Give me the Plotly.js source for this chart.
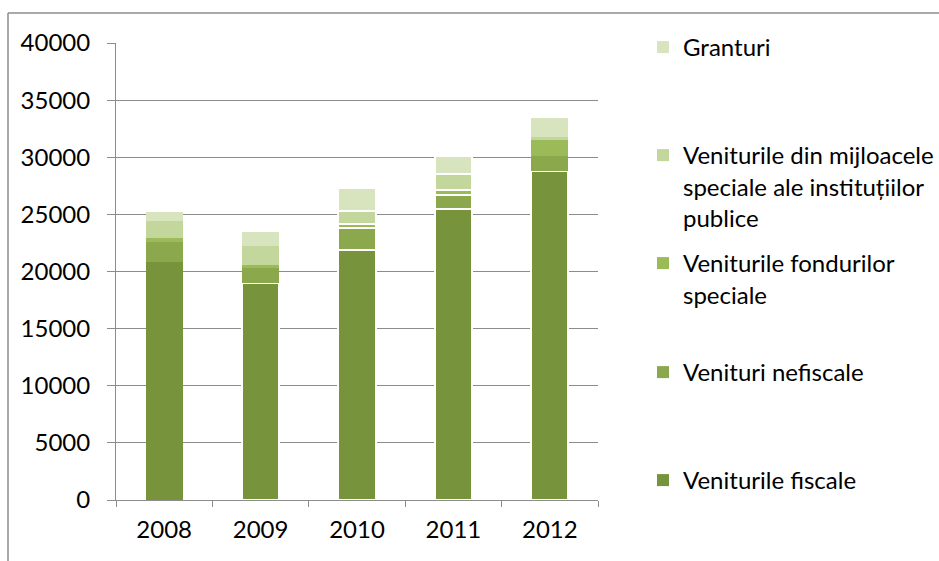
<!DOCTYPE html>
<html>
<head>
<meta charset="utf-8">
<script src="https://cdn.plot.ly/plotly-3.0.1.min.js"></script>
<style>
  html, body { margin: 0; padding: 0; background: #fff; }
  #chart { width: 939px; height: 561px; }
</style>
</head>
<body>
<div id="chart"></div>
<script>
// ---- data ----
const years = ['2008', '2009', '2010', '2011', '2012'];
const venituriFiscale = [20850, 19000, 21900, 25500, 28800];
const venituriNefiscale = [1720, 1300, 1930, 1230, 1310];
const fonduriSpeciale = [350, 290, 320, 390, 1400];
const mijloaceSpeciale = [1540, 1600, 1160, 1400, 290];
const granturi = [760, 1230, 2030, 1620, 1610];

const names = {
  fiscale: 'Veniturile fiscale',
  nefiscale: 'Venituri nefiscale',
  fonduri: 'Veniturile fondurilor<br>speciale',
  mijloace: 'Veniturile din mijloacele<br>speciale ale instituțiilor<br>publice',
  granturi: 'Granturi'
};

const font = 'Lato, "Open Sans", sans-serif';

function bar(y, name, color, lineW, legendId) {
  return {
    type: 'bar', x: years, y: y, name: name, legend: legendId,
    marker: { color: color, line: { color: '#ffffff', width: lineW } },
    hoverinfo: 'x+y+name'
  };
}

const traces = [
  bar(venituriFiscale, names.fiscale, '#77933C', [0, 2, 2, 2, 2], 'legend5'),
  bar(venituriNefiscale, names.nefiscale, '#8CA84D', [0, 0, 2, 2, 0], 'legend4'),
  bar(fonduriSpeciale, names.fonduri, '#9BBB59', [0, 0, 2, 2, 0], 'legend3'),
  bar(mijloaceSpeciale, names.mijloace, '#C3D69B', [0, 0, 2, 2, 0], 'legend2'),
  bar(granturi, names.granturi, '#D7E4BD', [0, 0, 2, 2, 0], 'legend')
];

// plot area: x 116..598, y 43..500
const L = 116, R = 598, T = 43, B = 500;
const px = v => (v - L) / (R - L);
const py = v => (B - v) / (B - T);

function leg(yPix) {
  return {
    x: px(643), xanchor: 'left', y: py(yPix), yanchor: 'top',
    valign: 'top', bgcolor: 'rgba(0,0,0,0)', borderwidth: 0,
    font: { family: font, size: 24, color: '#000' },
    itemclick: false, itemdoubleclick: false
  };
}

const gray = '#8C8C8C';
const tickFont = { family: font, size: 24, color: '#000' };
const layout = {
  width: 939, height: 561,
  margin: { l: L, r: 939 - R, t: T, b: 561 - B, pad: 0, autoexpand: false },
  paper_bgcolor: '#fff', plot_bgcolor: '#fff',
  barmode: 'stack', bargap: 0.615,
  showlegend: true,
  legend: leg(25),
  legend2: leg(133),
  legend3: leg(241),
  legend4: leg(350),
  legend5: leg(458),
  xaxis: {
    type: 'category', range: [-0.5, 4.5],
    showline: true, linecolor: gray, linewidth: 1,
    ticks: 'outside', tickson: 'boundaries', ticklen: 6, tickcolor: gray, tickwidth: 1,
    showgrid: false, zeroline: false,
    tickfont: tickFont,
    ticklabelstandoff: 8
  },
  yaxis: {
    range: [0, 40000], dtick: 5000, tick0: 0,
    showline: true, linecolor: gray, linewidth: 1,
    ticks: 'outside', ticklen: 8, tickcolor: gray, tickwidth: 1,
    showgrid: true, gridcolor: gray, gridwidth: 1, zeroline: false,
    tickformat: 'd',
    tickfont: tickFont,
    ticklabelstandoff: 12
  },
  shapes: [
    { type: 'line', xref: 'paper', yref: 'paper', x0: px(8), x1: px(8), y0: py(561), y1: py(13),
      line: { color: gray, width: 1.5 } },
    { type: 'line', xref: 'paper', yref: 'paper', x0: px(8), x1: px(939), y0: py(13), y1: py(13),
      line: { color: gray, width: 1.5 } }
  ]
};

Plotly.newPlot('chart', traces, layout, { displayModeBar: false, staticPlot: true });
</script>
</body>
</html>
